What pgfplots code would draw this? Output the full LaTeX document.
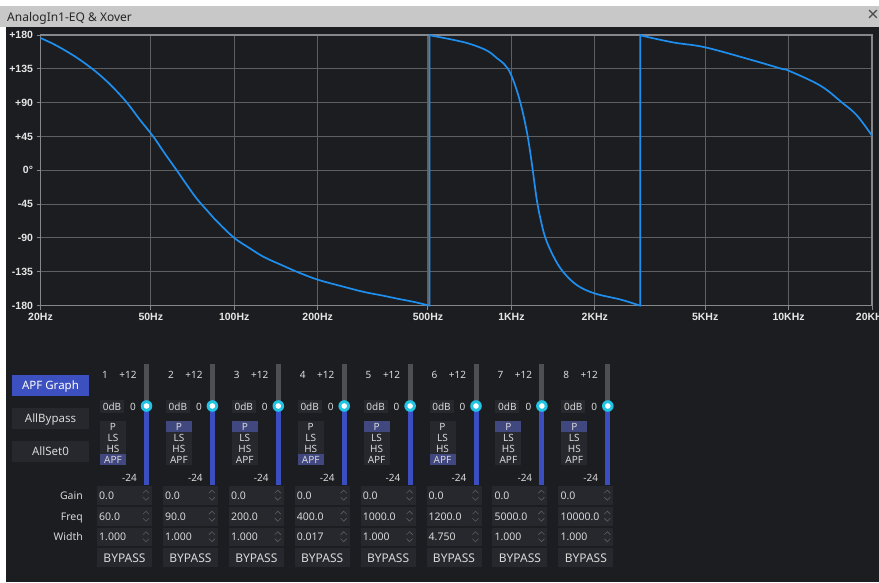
\documentclass[border=0pt]{standalone}
\usepackage{pgfplots}
\pgfplotsset{compat=1.18}
\usepackage{fontspec}
\setmainfont{Noto Sans}
\newfontfamily\lib{Liberation Sans}
\definecolor{winbg}{HTML}{1C1D21}
\definecolor{titlebar}{HTML}{C8C8C8}
\definecolor{gridc}{HTML}{5E5F63}
\definecolor{axc}{HTML}{86878A}
\definecolor{labc}{HTML}{E6E6E6}
\definecolor{curve}{HTML}{1E8FEE}
\definecolor{fieldbg}{HTML}{27282D}
\definecolor{hl}{HTML}{41477F}
\definecolor{btnblue}{HTML}{3D50C0}
\definecolor{trackgray}{HTML}{4E4F53}
\definecolor{trackblue}{HTML}{3A4EC0}
\definecolor{thumbc}{HTML}{22C4E4}
\definecolor{uitext}{HTML}{D8D8D8}
\definecolor{spinc}{HTML}{5C5D62}
\begin{document}
\begin{tikzpicture}
\useasboundingbox (0,0) rectangle (879pt,-582pt);
\clip (0,0) rectangle (879pt,-582pt);
\begin{scope}[x=1pt,y=-1pt,
  ui/.style={text=uitext, inner sep=0pt, anchor=base}]
\fill[white] (0,0) rectangle (879,582);
\fill[titlebar] (0,6) rectangle (879,27);
\fill[winbg] (6,27) rectangle (879,582);
\node[anchor=base west, inner sep=0pt, text=black!85, font=\fontsize{12}{14}\selectfont] at (7,21) {AnalogIn1-EQ \& Xover};
\node[anchor=center, inner sep=0pt, text=black!70, font=\fontsize{20}{22}\selectfont] at (873,16) {×};
% left buttons
\fill[btnblue] (12,375) rectangle (89,396);
\node[ui, text=white, font=\fontsize{11.5}{13}\selectfont] at (50.5,389.6) {APF Graph};
\fill[fieldbg] (12,408) rectangle (89,429);
\node[ui, font=\fontsize{11.5}{13}\selectfont] at (50.5,422.6) {AllBypass};
\fill[fieldbg] (12,441) rectangle (89,462);
\node[ui, font=\fontsize{11.5}{13}\selectfont] at (50.5,455.6) {AllSet0};
% row labels
\node[ui, anchor=base east, font=\fontsize{10.5}{12}\selectfont] at (83,499.5) {Gain};
\node[ui, anchor=base east, font=\fontsize{10.5}{12}\selectfont] at (83,520) {Freq};
\node[ui, anchor=base east, font=\fontsize{10.5}{12}\selectfont] at (83,540.5) {Width};
% channel strips
\foreach \sel/\fr/\wdv [count=\i from 0] in {A/60.0/1.000, P/90.0/1.000, P/200.0/1.000, A/400.0/0.017, P/1000.0/1.000, A/1200.0/4.750, P/5000.0/1.000, P/10000.0/1.000}{
  \pgfmathsetmacro\xo{97+\i*65.9}
  \pgfmathtruncatemacro\kk{\i+1}
  \node[ui, text=uitext!90, font=\fontsize{10}{12}\selectfont] at ({\xo+8},378) {\kk};
  \node[ui, text=uitext!90, font=\fontsize{10}{12}\selectfont] at ({\xo+31},378) {+12};
  \fill[trackgray] ({\xo+47},364) rectangle ({\xo+52},406);
  \fill[trackblue] ({\xo+47},406) rectangle ({\xo+52},485);
  \fill[thumbc] ({\xo+49.5},406) circle[radius=5.8pt];
  \fill[white] ({\xo+49.5},406) circle[radius=2.8pt];
  \fill[fieldbg] ({\xo+3},400) rectangle ({\xo+27},413);
  \node[ui, font=\fontsize{10}{12}\selectfont] at ({\xo+15},410.2) {0dB};
  \node[ui, font=\fontsize{10}{12}\selectfont] at ({\xo+36},410.2) {0};
  \fill[fieldbg] ({\xo+3},421) rectangle ({\xo+29},465);
  \if\sel A
    \fill[hl] ({\xo+3},454) rectangle ({\xo+29},465);
  \else
    \fill[hl] ({\xo+3},421) rectangle ({\xo+29},432);
  \fi
  \node[ui, font=\fontsize{10}{12}\selectfont] at ({\xo+16},430.2) {P};
  \node[ui, font=\fontsize{10}{12}\selectfont] at ({\xo+16},441.2) {LS};
  \node[ui, font=\fontsize{10}{12}\selectfont] at ({\xo+16},452.2) {HS};
  \node[ui, font=\fontsize{10}{12}\selectfont] at ({\xo+16},463.2) {APF};
  \node[ui, anchor=base east, font=\fontsize{10}{12}\selectfont] at ({\xo+40},481) {-24};
  \foreach \yy/\tx in {486/0.0, 507/\fr, 527.5/\wdv}{
    \pgfmathsetmacro\cc{\yy+9.2}
    \fill[fieldbg] ({\xo},\yy) rectangle ({\xo+55},{\yy+18.5});
    \node[ui, anchor=base west, font=\fontsize{10.5}{12}\selectfont] at ({\xo+2},{\cc+3.8}) {\tx};
    \draw[spinc, line width=0.6pt] ({\xo+46},{\cc-2}) -- ({\xo+49},{\cc-5}) -- ({\xo+52},{\cc-2});
    \draw[spinc, line width=0.6pt] ({\xo+46},{\cc+2}) -- ({\xo+49},{\cc+5}) -- ({\xo+52},{\cc+2});
  }
  \fill[fieldbg] ({\xo},548) rectangle ({\xo+55},567);
  \node[ui, font=\fontsize{12}{14}\selectfont] at ({\xo+27.5},562) {BYPASS};
}
\end{scope}
\begin{axis}[
  at={(40.5pt,-305.5pt)}, anchor=south west,
  scale only axis, width=831.5pt, height=270.5pt,
  xmode=log, xmin=20, xmax=20000, ymin=-180, ymax=180,
  xtick={20,50,100,200,500,1000,2000,5000,10000,20000},
  xticklabels={20Hz,50Hz,100Hz,200Hz,500Hz,1KHz,2KHz,5KHz,10KHz,20KHz},
  ytick={-180,-135,-90,-45,0,45,90,135,180},
  yticklabels={-180,-135,-90,-45,0°,+45,+90,+135,+180},
  xminorticks=false, yminorticks=false,
  grid=major, major grid style={draw=gridc, line width=1.1pt},
  axis line style={draw=axc, line width=1.8pt},
  tick pos=left, tick align=outside, major tick length=4pt,
  tick style={draw=axc, line width=1pt},
  ticklabel style={font=\lib\bfseries\fontsize{10.5}{12}\selectfont, text=labc},
  axis background/.style={fill=winbg},
  clip=false,
]
\addplot[curve, line width=1.7pt, smooth, tension=0.6] coordinates {
(20,176) (22,169) (24,161.5) (27,150) (30.5,136) (33.5,123.5) (36.6,110) (40.9,90.5) (45.7,67) (51,45) (56,23) (62,0) (67,-18) (73.3,-38) (80,-54) (86.6,-68) (100,-90) (114,-104) (128,-115.5) (150,-127) (169,-135.4) (200,-145.6) (245,-154.5) (294,-162) (340,-166.5) (389,-171) (450,-175.6) (503,-180)
};
\addplot[curve, line width=1.7pt] coordinates {(503,-180) (507,-180) (507,180) (518,179)};
\addplot[curve, line width=1.7pt, smooth, tension=0.6] coordinates {
(518,179) (620,173.4) (711,168) (817,159.2) (888,149) (938,142) (970,135.5) (1000,126) (1040,109) (1077,90) (1110,70) (1145,45) (1170,23) (1194,0) (1215,-21) (1238,-42) (1272,-64) (1326,-90) (1420,-115) (1535,-135) (1725,-153) (2000,-164) (2472,-172) (2878,-179.5) (2910,-180)
};
\addplot[curve, line width=1.7pt] coordinates {(2910,-180) (2915,-180) (2915,180) (2960,179)};
\addplot[curve, line width=1.7pt, smooth, tension=0.6] coordinates {
(2960,179) (3850,170) (5000,163.6) (7478,146) (9440,135) (10000,132.6) (13010,112.7) (15600,90) (17640,73) (20000,46)
};
\end{axis}
\end{tikzpicture}
\end{document}
